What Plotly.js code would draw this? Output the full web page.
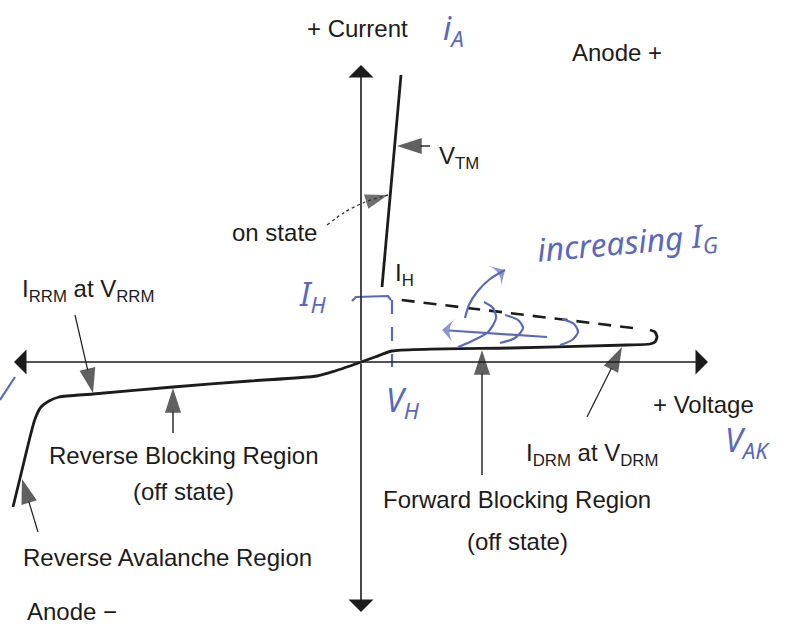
<!DOCTYPE html>
<html>
<head>
<meta charset="utf-8">
<script src="https://cdn.plot.ly/plotly-3.0.1.min.js"></script>
<style>
  html, body { margin: 0; padding: 0; background: #ffffff; }
  #chart { width: 788px; height: 626px; }
</style>
</head>
<body>
<div id="chart"></div>
<script>
// Thyristor anode characteristic, schematic units (origin where the axes cross)

// Reverse branch: avalanche knee, then reverse blocking leakage up to the origin
const reverseV = [-348, -339, -331, -326, -320, -312, -302, -268, -188, -111, -44, -26, -11, 0];
const reverseI = [-145, -108, -75, -57, -45, -39, -35, -32, -25, -19, -14, -9, -4, 0];

// Forward blocking branch ending in the breakover hook
const forwardV = [0, 14, 31, 150, 266, 289, 294, 296, 294, 289];
const forwardI = [0, 5, 11, 14, 17, 18, 20, 25, 30, 32];

// Switching path back down to the holding point (dashed)
const switchV = [272, 32];
const switchI = [34, 63];

// On-state branch
const onV = [21, 40];
const onI = [75, 287];

// Holding point
const holdV = 31;
const holdI = 63;

// Axis extents
const axisV = [-347, 347];
const axisI = [-250, 297];

const ink = '#1c1c1c';
const pen = '#5a69be';

// A line with an arrow head placed on its last point
function arrow(xs, ys, opts) {
  const o = Object.assign({color: ink, width: 1.2, head: 26, symbol: 'arrow', dash: 'solid', shape: 'linear'}, opts || {});
  const sizes = xs.map((_, i) => i === xs.length - 1 ? o.head : 0);
  return {
    type: 'scatter', mode: 'lines+markers', x: xs, y: ys,
    line: {color: o.color, width: o.width, dash: o.dash, shape: o.shape, smoothing: 0.8},
    marker: {symbol: o.symbol, size: sizes, color: o.color, angleref: 'previous', line: {width: 0}},
    hoverinfo: 'skip', showlegend: false
  };
}
function stroke(xs, ys, opts) {
  const o = Object.assign({color: ink, width: 2.8, dash: 'solid', shape: 'linear', smoothing: 0.8}, opts || {});
  return {
    type: 'scatter', mode: 'lines', x: xs, y: ys,
    line: {color: o.color, width: o.width, dash: o.dash, shape: o.shape, smoothing: o.smoothing},
    hoverinfo: 'skip', showlegend: false
  };
}

const traces = [
  // characteristic
  stroke(reverseV, reverseI, {shape: 'spline', smoothing: 0.6}),
  stroke(forwardV, forwardI, {shape: 'spline', smoothing: 0.6}),
  stroke(switchV, switchI, {dash: '13px,9px', width: 2.6}),
  stroke(onV, onI),

  // pointers to the labels
  arrow([69, 36], [216, 216], {head: 26, width: 1.4}),
  arrow([-34, -16, 4, 27], [137, 150, 160, 167], {dash: 'dot', width: 1.3, shape: 'spline', head: 24, color: '#333'}),
  arrow([-286, -268], [47, -31]),
  arrow([-188, -188], [-71, -26], {width: 1.4}),
  arrow([-323, -339], [-170, -117]),
  arrow([121, 121], [-113, 12], {width: 1.4}),
  arrow([226, 261], [-55, 15]),

  // pen marks: holding current and voltage
  stroke([-9, -5, 27, 30], [61, 65, 66, 62], {color: pen, width: 2.2}),
  stroke([holdV, holdV], [holdI - 1, -5], {color: pen, width: 2.2, dash: '14px,13px'}),

  // pen marks: increasing gate current
  arrow([104, 108, 116, 129, 144], [44, 57, 70, 83, 92], {color: pen, width: 2.2, shape: 'spline', head: 18, symbol: 'arrow-wide'}),
  arrow([186, 81], [25, 32], {color: pen, width: 2.2, head: 18, symbol: 'arrow-wide'}),
  stroke([123, 132, 135, 127, 109, 97], [60, 54, 44, 30, 20, 15], {color: pen, width: 2.2, shape: 'spline'}),
  stroke([144, 157, 162, 154, 139], [47, 42, 34, 24, 19], {color: pen, width: 2.2, shape: 'spline'}),
  stroke([201, 213, 217, 211, 199], [43, 38, 30, 22, 17], {color: pen, width: 2.2, shape: 'spline'}),
  stroke([-361, -346], [-38, -15], {color: pen, width: 2.2})
];

const printed = {family: 'Liberation Sans, Arial, sans-serif', size: 24, color: ink};
const hand = {family: 'Noto Sans, sans-serif', size: 32, color: pen, style: 'italic'};

function label(x, y, text, opts) {
  return Object.assign({
    x: x, y: y, xref: 'x', yref: 'y', text: text, showarrow: false,
    font: printed, xanchor: 'center', yanchor: 'middle'
  }, opts || {});
}
// Axis drawn from the origin out to a filled arrow tip
function axisArrow(x, y) {
  return {
    x: x, y: y, xref: 'x', yref: 'y', ax: 0, ay: 0, axref: 'x', ayref: 'y',
    text: '', showarrow: true, arrowhead: 1, arrowsize: 2.6, arrowwidth: 1.6,
    arrowcolor: ink, standoff: 0, startstandoff: 0
  };
}

const annotations = [
  axisArrow(axisV[0], 0),
  axisArrow(axisV[1], 0),
  axisArrow(0, axisI[1]),
  axisArrow(0, axisI[0]),

  label(-4, 334, '+ Current'),
  label(256, 310, 'Anode +'),
  label(76, 205, 'V<sub>TM</sub>', {xanchor: 'left'}),
  label(-87, 130, 'on state'),
  label(32, 88, 'I<sub>H</sub>', {xanchor: 'left'}),
  label(-341, 72, 'I<sub>RRM</sub> at V<sub>RRM</sub>', {xanchor: 'left'}),
  label(-178, -93, 'Reverse Blocking Region'),
  label(-178, -129, '(off state)'),
  label(-194, -195, 'Reverse Avalanche Region'),
  label(-289, -249, 'Anode \u2212'),
  label(342, -42, '+ Voltage'),
  label(231, -92, 'I<sub>DRM</sub> at V<sub>DRM</sub>'),
  label(156, -137, 'Forward Blocking Region'),
  label(156, -179, '(off state)'),

  // pen notes
  label(92, 332, 'i<sub>A</sub>', {font: hand}),
  label(-49, 66, 'I<sub>H</sub>', {font: hand}),
  label(42, -40, 'V<sub>H</sub>', {font: hand}),
  label(386, -80, 'V<sub>AK</sub>', {font: hand}),
  label(266, 118, 'increasing I<sub>G</sub>', {font: hand, textangle: -5})
];

const layout = {
  width: 788, height: 626,
  margin: {l: 0, r: 0, t: 0, b: 0, pad: 0},
  paper_bgcolor: '#ffffff', plot_bgcolor: '#ffffff',
  xaxis: {range: [-361, 427], visible: false, fixedrange: true},
  yaxis: {range: [-264, 362], visible: false, fixedrange: true},
  showlegend: false, hovermode: false,
  annotations: annotations
};

Plotly.newPlot('chart', traces, layout, {displayModeBar: false});
</script>
</body>
</html>
